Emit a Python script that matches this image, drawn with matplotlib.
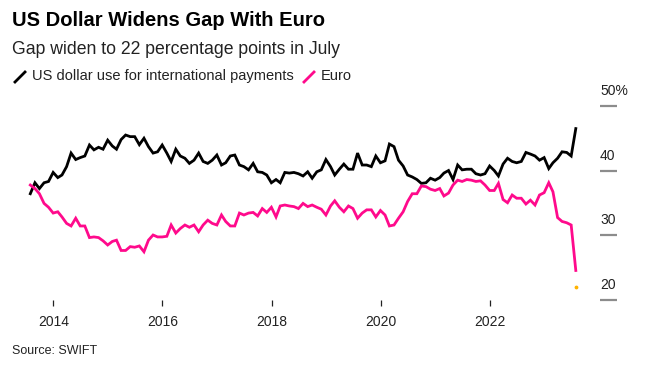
import numpy as np
import pandas as pd
import matplotlib
matplotlib.use('Agg')
import matplotlib.pyplot as plt
from matplotlib.lines import Line2D
from matplotlib.transforms import blended_transform_factory, offset_copy

plt.rcParams['font.family'] = ['Liberation Sans', 'DejaVu Sans']

# Monthly share of international payments (%), Jul 2013 - Jul 2023
dates = pd.date_range('2013-07-31', periods=121, freq='ME')

usd_share = [
    36.4, 38.1, 37.2, 38.1, 38.3, 39.7, 38.9, 39.3, 40.6, 42.7,
    41.7, 42.0, 42.25, 43.95, 43.2, 43.6, 43.3, 44.7, 43.8, 43.3,
    44.8, 45.5, 45.25, 45.25, 44.0, 45.0, 43.7, 42.7, 42.9, 43.95,
    42.7, 41.4, 43.3, 42.25, 41.9, 41.1, 41.6, 42.7, 41.4, 41.1,
    41.6, 42.4, 40.85, 41.2, 42.25, 42.4, 40.85, 40.6, 40.1, 41.1,
    39.8, 39.7, 39.3, 38.1, 38.6, 38.1, 39.7, 39.6, 39.7, 39.5,
    39.15, 39.8, 38.8, 39.8, 40.1, 41.7, 40.6, 39.3, 40.2, 41.0,
    40.2, 40.2, 42.7, 40.85, 40.85, 40.6, 42.25, 41.2, 41.5, 44.1,
    43.7, 41.6, 40.7, 39.3, 39.0, 38.6, 38.0, 38.1, 38.8, 38.5,
    38.9, 39.6, 40.0, 38.6, 40.85, 40.1, 40.2, 40.2, 39.5, 39.3,
    39.5, 40.7, 40.0, 39.15, 41.0, 41.9, 41.4, 41.2, 41.4, 42.8,
    42.55, 42.25, 41.6, 42.0, 40.3, 41.2, 41.9, 42.9, 42.8, 42.25,
    46.5,
]

eur_share = [
    37.75, 37.2, 36.4, 34.9, 34.3, 33.4, 33.6, 32.8, 31.8, 31.4,
    32.6, 31.4, 31.4, 29.6, 29.7, 29.6, 29.1, 28.45, 29.0, 29.2,
    27.6, 27.6, 28.2, 28.1, 28.3, 27.4, 29.2, 30.0, 29.7, 29.7,
    29.8, 31.55, 30.3, 31.0, 31.55, 31.2, 31.55, 30.5, 31.55, 32.3,
    31.8, 31.55, 33.1, 32.1, 31.4, 31.4, 33.4, 33.1, 33.4, 33.5,
    32.95, 34.1, 33.5, 34.3, 32.8, 34.5, 34.65, 34.5, 34.4, 34.1,
    34.9, 34.4, 34.65, 34.3, 34.0, 33.1, 34.5, 35.3, 34.3, 33.6,
    34.5, 34.1, 32.6, 33.4, 33.9, 33.9, 32.8, 33.8, 33.1, 31.4,
    31.55, 32.6, 33.6, 35.2, 36.4, 36.4, 37.6, 37.5, 37.1, 36.9,
    37.2, 36.05, 36.5, 37.75, 38.5, 38.3, 38.6, 38.5, 38.3, 38.4,
    37.75, 36.9, 36.9, 38.0, 35.5, 35.0, 36.2, 35.7, 35.7, 34.8,
    35.4, 34.65, 36.2, 36.56, 38.1, 36.7, 32.7, 32.1, 31.9, 31.55,
    24.5,
]

# latest gap marker
gap_date = dates[-1]
gap_value = 22.0

x_tick_years = [2014, 2016, 2018, 2020, 2022]
y_ticks = [20, 30, 40, 50]
y_labels = ['20', '30', '40', '50%']

usd_color = '#000000'
eur_color = '#ff0a8c'
gap_color = '#ffb300'

fig = plt.figure(figsize=(6.52, 3.79), dpi=100)
ax = fig.add_axes([20 / 652, 1 - 299.5 / 379, 580 / 652, 193.5 / 379])

ax.plot(dates, usd_share, color=usd_color, lw=2.0, solid_joinstyle='miter')
ax.plot(dates, eur_share, color=eur_color, lw=2.0, solid_joinstyle='miter')
ax.scatter([gap_date], [gap_value], color=gap_color, s=3, zorder=3)

ax.set_xlim(pd.Timestamp('2013-05-23'), pd.Timestamp('2024-01-09'))
ax.set_ylim(20, 50)

for s in ax.spines.values():
    s.set_visible(False)

ax.set_xticks([pd.Timestamp(f'{y}-01-01') for y in x_tick_years])
ax.set_xticklabels([str(y) for y in x_tick_years])
ax.tick_params(axis='x', length=4, width=0.9, color='#222222', pad=7,
               labelsize=10, labelcolor='#222222')

ax.yaxis.tick_right()
ax.set_yticks(y_ticks)
ax.set_yticklabels([])
ax.tick_params(axis='y', direction='out', length=12.5, width=1.6, color='#8c8c8c')

trans = blended_transform_factory(ax.transAxes, ax.transData)
trans = offset_copy(trans, fig=fig, x=0, y=5.5, units='points')
for v, lab in zip(y_ticks, y_labels):
    ax.text(1.0, v, lab, transform=trans, ha='left', va='bottom',
            fontsize=10, color='#222222')

# titles
fig.text(12 / 652, 1 - 21 / 379, 'US Dollar Widens Gap With Euro', fontsize=14.5,
         fontweight='bold', ha='left', va='center', color='#000000')
fig.text(12 / 652, 1 - 49 / 379, 'Gap widen to 22 percentage points in July',
         fontsize=12.7, ha='left', va='center', color='#222222')

# legend
fig.add_artist(Line2D([15 / 652, 25 / 652], [1 - 82 / 379, 1 - 72 / 379],
                      color=usd_color, lw=2))
fig.text(32 / 652, 1 - 76 / 379, 'US dollar use for international payments',
         fontsize=10.5, ha='left', va='center', color='#222222')
fig.add_artist(Line2D([304 / 652, 314 / 652], [1 - 82 / 379, 1 - 72 / 379],
                      color=eur_color, lw=2))
fig.text(321 / 652, 1 - 76 / 379, 'Euro',
         fontsize=10.5, ha='left', va='center', color='#222222')

fig.text(12 / 652, 1 - 351 / 379, 'Source: SWIFT', fontsize=9,
         ha='left', va='center', color='#222222')

fig.savefig('out.png', dpi=100)
